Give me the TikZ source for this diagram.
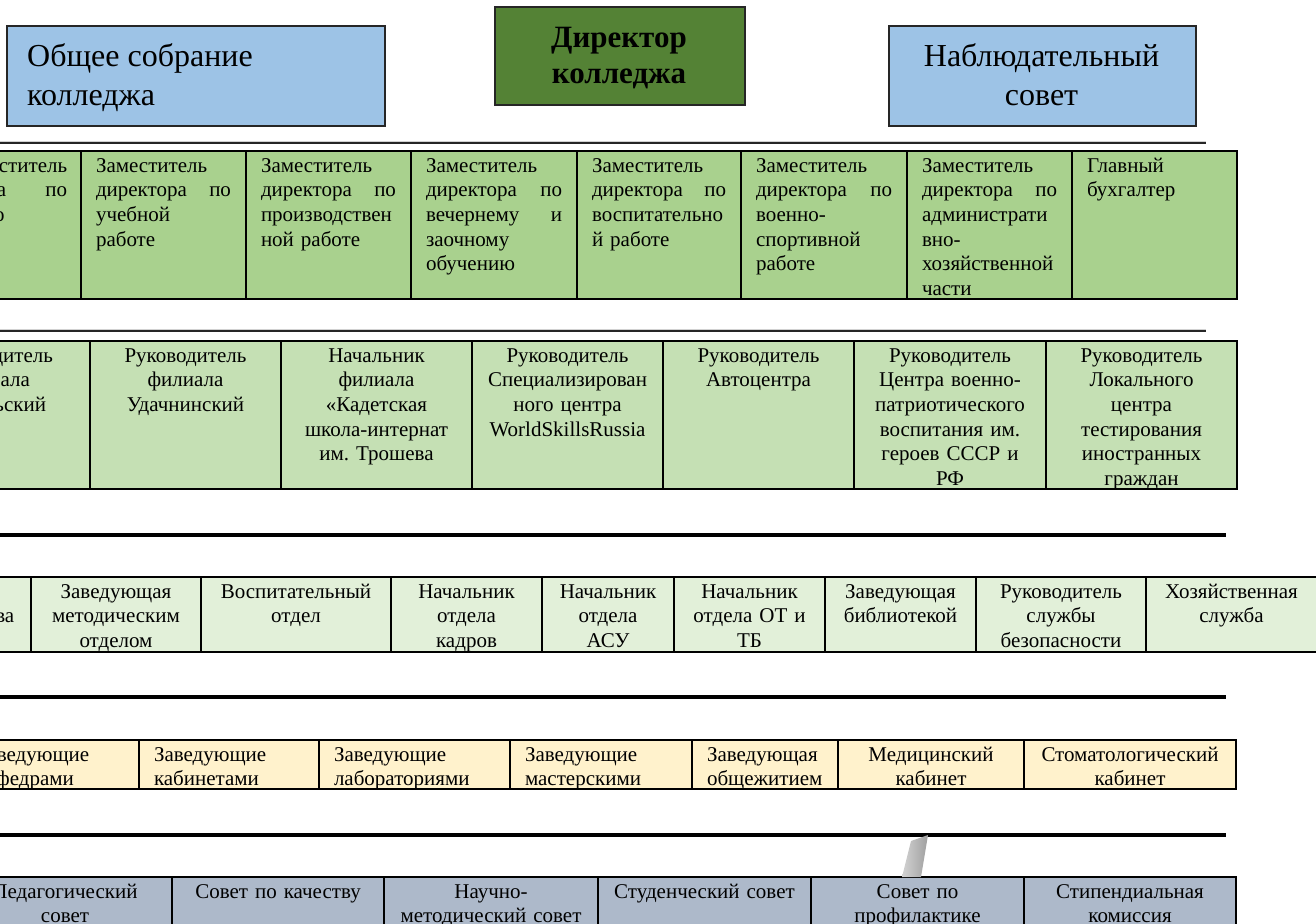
\documentclass[tikz,border=0pt]{standalone}
\usepackage{fontspec}
\setmainfont{Liberation Serif}
\frenchspacing
\definecolor{boxblue}{HTML}{9DC3E6}
\definecolor{dirgreen}{HTML}{548235}
\definecolor{rowa}{HTML}{A9D18E}
\definecolor{rowb}{HTML}{C5E0B4}
\definecolor{rowc}{HTML}{E2F0D9}
\definecolor{rowd}{HTML}{FFF2CC}
\definecolor{rowe}{HTML}{ADB9CA}
\newcommand\jfill{\hspace{0pt plus 1filll}}
\tikzset{
  cellborder/.style={draw=black, line width=1.8pt},
  celltext/.style={inner sep=0pt, font=\fontsize{21}{24.6}\selectfont},
  topbox/.style={draw=black!85, line width=1.6pt, inner sep=0pt, anchor=north west},
  toptext/.style={inner sep=0pt, anchor=north, font=\fontsize{32}{39}\selectfont},
  dirtext/.style={inner sep=0pt, anchor=north, align=center, font=\fontsize{31}{36}\selectfont\bfseries},
  thinsep/.style={line width=1.3pt, draw=black!85},
  thinshade/.style={line width=0.6pt, draw=black!18},
  thicksep/.style={line width=3.6pt, draw=black},
}
% cell with left (justified) text
\newcommand\lcell[7]{%
  \draw[cellborder, fill=#6] (#2,#4) rectangle (#3,#5);
  \pgfmathsetmacro\cellw{#3-#2-30}%
  \node[celltext, text width=\cellw pt, align=left, anchor=north] (#1) at ({(#2+#3)/2},{#4+6}) {\rule{0pt}{15pt}#7};
}
% cell with centred text
\newcommand\ccell[7]{%
  \draw[cellborder, fill=#6] (#2,#4) rectangle (#3,#5);
  \pgfmathsetmacro\cellw{#3-#2-10}%
  \node[celltext, text width=\cellw pt, align=center, anchor=north] (#1) at ({(#2+#3)/2},{#4+6}) {\rule{0pt}{15pt}#7};
}
\begin{document}
\begin{tikzpicture}[x=1pt, y=-1pt]
\useasboundingbox (0,0) rectangle (1316,923);
\clip (0,0) rectangle (1316,923);
\fill[white] (0,0) rectangle (1316,923);

% ---- top level
\node[topbox, fill=boxblue, minimum width=378pt, minimum height=100pt] (obs) at (6,25) {};
\node[toptext, anchor=north west, align=left] (obst) at (27,42) {\rule{0pt}{24pt}Общее собрание\\колледжа};
\node[topbox, fill=dirgreen, minimum width=250pt, minimum height=98pt] (dir) at (494,6) {};
\node[dirtext] (dirt) at (619,23.5) {\rule{0pt}{24pt}Директор\\колледжа};
\node[topbox, fill=boxblue, minimum width=307pt, minimum height=100pt] (nab) at (888,25) {};
\node[toptext, align=center] (nabt) at (1041.5,42) {\rule{0pt}{24pt}Наблюдательный\\совет};

% ---- separators
\coordinate (s1a) at (0,143); \coordinate (s1b) at (1206,143);
\coordinate (s1c) at (0,141); \coordinate (s1d) at (1206,141);
\draw[thinshade] (s1c) -- (s1d);
\draw[thinsep] (s1a) -- (s1b);
\coordinate (s2a) at (0,331); \coordinate (s2b) at (1206,331);
\coordinate (s2c) at (0,329); \coordinate (s2d) at (1206,329);
\draw[thinshade] (s2c) -- (s2d);
\draw[thinsep] (s2a) -- (s2b);
\coordinate (s3a) at (0,535); \coordinate (s3b) at (1226,535);
\draw[thicksep] (s3a) -- (s3b);
\coordinate (s4a) at (0,697); \coordinate (s4b) at (1226,697);
\draw[thicksep] (s4a) -- (s4b);
\coordinate (s5a) at (0,835); \coordinate (s5b) at (1226,835);
\draw[thicksep] (s5a) -- (s5b);

% ---- row 1: deputies
\draw[cellborder, fill=rowa] (-100,151) rectangle (81,299);
\node[celltext, text width=152pt, align=left, anchor=north west] (za0) at (-85,157) {\rule{0pt}{15pt}\mbox{}\jfill Заместитель\\директора\jfill по\\\hspace*{4pt}развитию};
\lcell{za1}{81}{246}{151}{299}{rowa}{Заместитель\\директора\jfill по\\учебной\\работе}
\lcell{za2}{246}{411}{151}{299}{rowa}{Заместитель\\директора\jfill по\\производствен\\ной работе}
\lcell{za3}{411}{577}{151}{299}{rowa}{Заместитель\\директора\jfill по\\вечернему\jfill и\\заочному\\обучению}
\lcell{za4}{577}{741}{151}{299}{rowa}{Заместитель\\директора\jfill по\\воспитательно\\й работе}
\lcell{za5}{741}{907}{151}{299}{rowa}{Заместитель\\директора\jfill по\\военно-\\спортивной\\работе}
\lcell{za6}{907}{1072}{151}{299}{rowa}{Заместитель\\директора\jfill по\\администрати\\вно-\\хозяйственной\\части}
\lcell{za7}{1072}{1237}{151}{299}{rowa}{Главный\\бухгалтер}

% ---- row 2: branches and centres
\ccell{rb0}{-106}{90}{341}{489}{rowb}{Руководитель\\филиала\\Айхальский}
\ccell{rb1}{90}{281}{341}{489}{rowb}{Руководитель\\филиала\\Удачнинский}
\ccell{rb2}{281}{472}{341}{489}{rowb}{Начальник\\филиала\\«Кадетская\\школа-интернат\\им. Трошева}
\ccell{rb3}{472}{663}{341}{489}{rowb}{Руководитель\\Специализирован\\ного центра\\WorldSkillsRussia}
\ccell{rb4}{663}{854}{341}{489}{rowb}{Руководитель\\Автоцентра}
\ccell{rb5}{854}{1046}{341}{489}{rowb}{Руководитель\\Центра военно-\\патриотического\\воспитания им.\\героев СССР и\\РФ}
\ccell{rb6}{1046}{1237}{341}{489}{rowb}{Руководитель\\Локального\\центра\\тестирования\\иностранных\\граждан}

% ---- row 3: departments
\ccell{rc0}{-163}{31}{577}{652}{rowc}{Руководитель\\делопроизводства}
\ccell{rc1}{31}{201}{577}{652}{rowc}{Заведующая\\методическим\\отделом}
\ccell{rc2}{201}{391}{577}{652}{rowc}{Воспитательный\\отдел}
\ccell{rc3}{391}{542}{577}{652}{rowc}{Начальник\\отдела\\кадров}
\ccell{rc4}{542}{674}{577}{652}{rowc}{Начальник\\отдела\\АСУ}
\ccell{rc5}{674}{825}{577}{652}{rowc}{Начальник\\отдела ОТ и\\ТБ}
\ccell{rc6}{825}{976}{577}{652}{rowc}{Заведующая\\библиотекой}
\ccell{rc7}{976}{1146}{577}{652}{rowc}{Руководитель\\службы\\безопасности}
\ccell{rc8}{1146}{1317}{577}{652}{rowc}{Хозяйственная\\служба}

% ---- row 4
\lcell{rd0}{-38}{139}{740}{789}{rowd}{Заведующие\\кафедрами}
\lcell{rd1}{139}{319}{740}{789}{rowd}{Заведующие\\кабинетами}
\lcell{rd2}{319}{510}{740}{789}{rowd}{Заведующие\\лабораториями}
\lcell{rd3}{510}{692}{740}{789}{rowd}{Заведующие\\мастерскими}
\lcell{rd4}{692}{838}{740}{789}{rowd}{Заведующая\\общежитием}
\ccell{rd5}{838}{1024}{740}{789}{rowd}{Медицинский\\кабинет}
\ccell{rd6}{1024}{1236}{740}{789}{rowd}{Стоматологический\\кабинет}

% ---- row 5: councils
\ccell{re0}{-42}{172}{877}{935}{rowe}{Педагогический\\совет}
\ccell{re1}{172}{384}{877}{935}{rowe}{Совет по качеству}
\ccell{re2}{384}{598}{877}{935}{rowe}{Научно-\\методический совет}
\ccell{re3}{598}{811}{877}{935}{rowe}{Студенческий совет}
\ccell{re4}{811}{1024}{877}{935}{rowe}{Совет по\\профилактике}
\ccell{re5}{1024}{1236}{877}{935}{rowe}{Стипендиальная\\комиссия}

% ---- grey pen mark
\shade[left color=gray!35, right color=gray!75] (911,841) -- (928,835) -- (921,877) -- (902,877) -- cycle;
\end{tikzpicture}
\end{document}
